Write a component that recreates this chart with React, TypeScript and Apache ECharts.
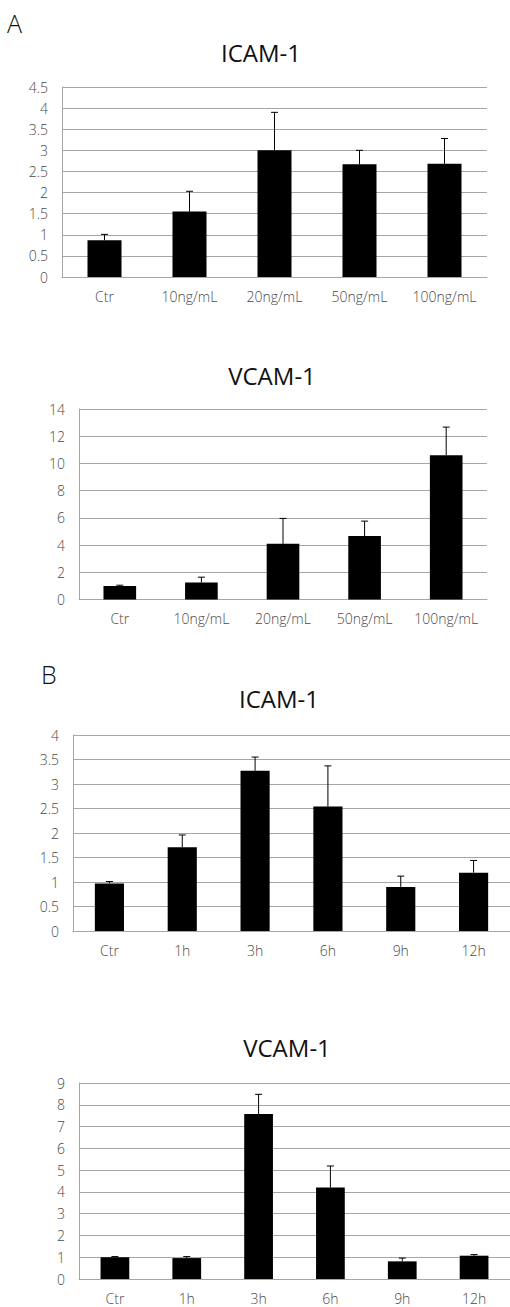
import React, { useEffect, useRef } from "react";
import * as echarts from "echarts";

const catsA = ["Ctr", "10ng/mL", "20ng/mL", "50ng/mL", "100ng/mL"];
const icamA = [0.87, 1.55, 3.0, 2.67, 2.68];
const icamAErr = [0.14, 0.48, 0.9, 0.33, 0.6];
const vcamA = [1.0, 1.25, 4.09, 4.66, 10.61];
const vcamAErr = [0.05, 0.39, 1.87, 1.1, 2.06];

const catsB = ["Ctr", "1h", "3h", "6h", "9h", "12h"];
const icamB = [0.97, 1.71, 3.27, 2.54, 0.9, 1.19];
const icamBErr = [0.04, 0.25, 0.28, 0.83, 0.22, 0.25];
const vcamB = [1.0, 0.96, 7.58, 4.2, 0.81, 1.07];
const vcamBErr = [0.03, 0.07, 0.9, 0.99, 0.15, 0.05];

const yMax = [4.5, 14, 4, 9];
const yInterval = [0.5, 2, 0.5, 1];
const titles = ["ICAM-1", "VCAM-1", "ICAM-1", "VCAM-1"];

const FONT = "'Open Sans', sans-serif";

export default function App() {
  const ref = useRef<HTMLDivElement>(null);
  useEffect(() => {
    if (!ref.current) return;
    const chart = echarts.init(ref.current, null, { renderer: "svg" });

    const grids = [
      { left: 62, top: 87, width: 425, height: 190 },
      { left: 79, top: 409, width: 408, height: 190.5 },
      { left: 73, top: 735, width: 438, height: 196 },
      { left: 79, top: 1083, width: 432, height: 196 },
    ];
    const cats = [catsA, catsA, catsB, catsB];
    const vals = [icamA, vcamA, icamB, vcamB];
    const errs = [icamAErr, vcamAErr, icamBErr, vcamBErr];
    const titlePos = [
      [261, 52],
      [272, 375],
      [279, 698],
      [287, 1047],
    ];

    const xAxis = cats.map((c, i) => ({
      type: "category",
      gridIndex: i,
      data: c,
      axisLine: { show: true, lineStyle: { color: "#a6a6a6", width: 1 } },
      axisTick: { show: false },
      axisLabel: { interval: 0, color: "#4a4a4a", fontFamily: FONT, fontSize: 14, fontWeight: 300, margin: 12 },
      splitLine: { show: false },
    }));
    const yAxis = yMax.map((m, i) => ({
      type: "value",
      gridIndex: i,
      min: 0,
      max: m,
      interval: yInterval[i],
      axisLine: { show: true, lineStyle: { color: "#a6a6a6", width: 1 } },
      axisTick: { show: false },
      axisLabel: { color: "#4a4a4a", fontFamily: FONT, fontSize: 14, fontWeight: 300, margin: 14 },
      splitLine: { show: true, lineStyle: { color: "#a6a6a6", width: 1 } },
    }));

    const series: any[] = [];
    vals.forEach((v, i) => {
      series.push({
        type: "bar",
        xAxisIndex: i,
        yAxisIndex: i,
        data: v,
        barWidth: "40%",
        itemStyle: { color: "#000" },
        z: 2,
      });
      series.push({
        type: "custom",
        xAxisIndex: i,
        yAxisIndex: i,
        z: 3,
        data: v.map((val, k) => [k, val, errs[i][k]]),
        renderItem: (params: any, api: any) => {
          const x = api.value(0);
          const y = api.value(1);
          const e = api.value(2);
          const p0 = api.coord([x, y]);
          const p1 = api.coord([x, y + e]);
          const style = { stroke: "#000", lineWidth: 1 };
          return {
            type: "group",
            children: [
              { type: "line", shape: { x1: p0[0], y1: p0[1], x2: p1[0], y2: p1[1] }, style },
              { type: "line", shape: { x1: p1[0] - 3.5, y1: p1[1], x2: p1[0] + 3.5, y2: p1[1] }, style },
            ],
          };
        },
      });
    });

    const graphic: any[] = titles.map((t, i) => ({
      type: "text",
      x: titlePos[i][0],
      y: titlePos[i][1],
      style: {
        text: t,
        fill: "#111",
        font: `24px ${FONT}`,
        textAlign: "center",
        textVerticalAlign: "middle",
      },
    }));
    graphic.push({
      type: "text",
      x: 7,
      y: 23,
      style: { text: "A", fill: "#111", font: `300 25px ${FONT}`, textAlign: "left", textVerticalAlign: "middle" },
    });
    graphic.push({
      type: "text",
      x: 41,
      y: 674,
      style: { text: "B", fill: "#111", font: `300 25px ${FONT}`, textAlign: "left", textVerticalAlign: "middle" },
    });

    chart.setOption({
      animation: false,
      backgroundColor: "#fff",
      grid: grids,
      xAxis,
      yAxis,
      series,
      graphic,
    });
    return () => chart.dispose();
  }, []);
  return (
    <div
      ref={ref}
      style={{ position: "absolute", left: 0, top: 0, width: 510, height: 1307 }}
    />
  );
}
